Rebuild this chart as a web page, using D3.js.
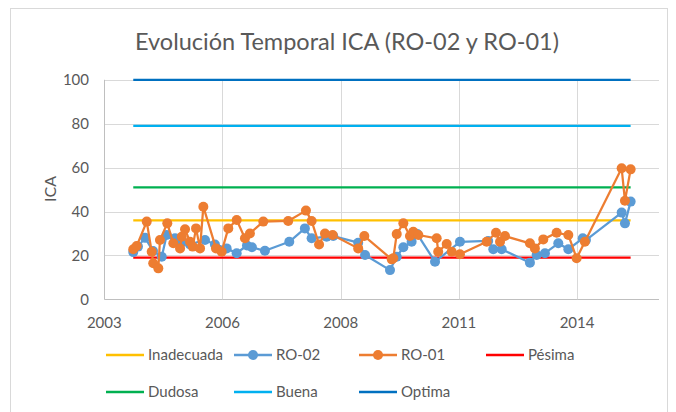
<!DOCTYPE html>
<html><head><meta charset="utf-8">
<script src="https://cdn.jsdelivr.net/npm/d3@7"></script>
<style>
html,body{margin:0;padding:0;background:#fff;}
text{font-family:Lato,"Open Sans",sans-serif;}
</style></head>
<body><svg id="c" width="676" height="412"></svg>
<script>
// ---- data ----
const ro02Dates = ["2004-02-01","2004-03-12","2004-05-11","2004-07-17","2004-09-29","2004-11-10","2005-01-19","2005-03-19","2005-05-26","2005-09-30","2005-12-23","2006-04-01","2006-06-25","2006-09-20","2006-11-01","2007-02-19","2007-09-13","2008-01-23","2008-03-20","2008-07-25","2008-09-19","2009-04-18","2009-06-15","2010-01-12","2010-03-10","2010-05-05","2010-07-14","2010-08-31","2011-01-28","2011-08-27","2012-04-22","2012-06-04","2012-08-14","2013-04-10","2013-06-06","2013-08-15","2013-12-06","2014-03-01","2014-07-01","2014-07-28","2015-05-26","2015-06-23","2015-08-10"];
const ro02Values = [21.5,24,28,22,19.4,29.3,27.8,26,25,27,25,23.2,21,24.5,23.7,22.1,26.2,32.3,27.8,28.5,28.8,25.8,20.2,13.3,19.4,23.7,26.2,29.7,17.1,26.2,26.6,22.8,22.8,16.7,20.2,21,25.5,22.8,27.8,27,39.5,34.6,44.5];
const ro01Dates = ["2004-02-01","2004-03-01","2004-05-25","2004-07-06","2004-07-19","2004-08-31","2004-09-14","2004-11-15","2005-01-05","2005-03-03","2005-03-17","2005-04-14","2005-05-26","2005-06-18","2005-07-16","2005-08-19","2005-09-16","2006-01-01","2006-02-18","2006-04-15","2006-06-25","2006-09-03","2006-10-15","2007-02-05","2007-09-04","2008-02-01","2008-03-20","2008-05-22","2008-07-11","2008-09-14","2009-04-18","2009-06-09","2010-01-27","2010-02-09","2010-03-10","2010-05-05","2010-06-30","2010-07-28","2010-09-09","2011-02-11","2011-02-24","2011-05-07","2011-06-18","2011-08-27","2012-04-09","2012-06-27","2012-07-31","2012-09-11","2013-04-10","2013-05-22","2013-08-01","2013-11-22","2014-03-01","2014-05-10","2014-07-19","2015-05-26","2015-06-23","2015-08-10"];
const ro01Values = [22.8,24.3,35.4,21.7,16.4,14.1,27,34.6,25.5,23.2,28.5,31.9,26.2,24,32.3,23.2,42.2,23.2,21.7,32.3,36.1,27.8,30,35.4,35.7,40.4,35.7,25,30,29.3,23.2,28.8,18.2,18.7,29.7,34.6,28.8,30.8,29.3,27.8,21.7,25.2,21.7,20.5,26.2,30.3,26.2,28.8,25.5,23.2,27.3,30.3,29.3,18.7,26.2,59.7,44.9,59.2];
const thresholdNames = ["Inadecuada","Pésima","Dudosa","Buena","Optima"];
const thresholdValues = [36,19,51,79,100];
const thresholdColors = ["#FFC000","#FF0000","#00B050","#00B0F0","#0070C0"];
const xTickLabels = ["2003","2006","2008","2011","2014"];
const yTicks = [0,20,40,60,80,100];
const legendRow1 = ["Inadecuada","RO-02","RO-01","Pésima"];
const legendRow2 = ["Dudosa","Buena","Optima"];

// ---- setup ----
const parse = d3.utcParse("%Y-%m-%d");
const DAY = 864e5;
const axisStart = Date.UTC(2003,5,1);
const x = d3.scaleUtc().domain([new Date(axisStart), new Date(axisStart + 4693*DAY)]).range([104.3, 659]);
const y = d3.scaleLinear().domain([0,100]).range([299.3, 79.8]);
const tickDates = xTickLabels.map((_,i)=> new Date(axisStart + i*1000*DAY));

const svg = d3.select("#c");
svg.append("rect").attr("x",10.5).attr("y",8.5).attr("width",657).attr("height",410).attr("fill","#fff").attr("stroke","#d9d9d9");

// title
svg.append("text").attr("x",347).attr("y",50).attr("text-anchor","middle")
  .attr("font-size",23.5).attr("fill","#595959").text("Evolución Temporal ICA (RO-02 y RO-01)");

// grid
const g = svg.append("g");
g.selectAll(".hg").data(yTicks).join("line")
  .attr("x1",x.range()[0]).attr("x2",x.range()[1])
  .attr("y1",d=>Math.round(y(d))+0.5).attr("y2",d=>Math.round(y(d))+0.5)
  .attr("stroke",d=>d===0?"#bfbfbf":"#d9d9d9").attr("stroke-width",1);
g.selectAll(".vg").data(tickDates).join("line")
  .attr("x1",d=>Math.round(x(d))+0.5).attr("x2",d=>Math.round(x(d))+0.5)
  .attr("y1",y(100)).attr("y2",y(0))
  .attr("stroke",(d,i)=>i===0?"#bfbfbf":"#d9d9d9").attr("stroke-width",1);

// y tick labels
g.selectAll(".yl").data(yTicks).join("text")
  .attr("x",89).attr("y",d=>y(d)).attr("dy","0.35em").attr("text-anchor","end")
  .attr("font-size",15).attr("fill","#595959").text(d=>d);
// x tick labels
g.selectAll(".xl").data(tickDates).join("text")
  .attr("x",d=>x(d)).attr("y",323).attr("dy","0.35em").attr("text-anchor","middle")
  .attr("font-size",15).attr("fill","#595959").text((d,i)=>xTickLabels[i]);
// y title
svg.append("text").attr("transform","translate(50,189) rotate(-90)").attr("text-anchor","middle")
  .attr("dy","0.35em").attr("font-size",16).attr("fill","#595959").text("ICA");

// series
const ro02 = ro02Dates.map((d,i)=>({date:parse(d), v:ro02Values[i]}));
const ro01 = ro01Dates.map((d,i)=>({date:parse(d), v:ro01Values[i]}));
const ext = d3.extent(ro02.concat(ro01), d=>d.date);
const line = d3.line().x(d=>x(d.date)).y(d=>y(d.v));

thresholdValues.forEach((v,i)=>{
  svg.append("line").attr("x1",x(ext[0])).attr("x2",x(ext[1]))
    .attr("y1",y(v)).attr("y2",y(v)).attr("stroke",thresholdColors[i]).attr("stroke-width",2.25);
});

function drawSeries(data,color){
  svg.append("path").datum(data).attr("d",line).attr("fill","none")
    .attr("stroke",color).attr("stroke-width",2.25).attr("stroke-linejoin","round");
  svg.append("g").selectAll("circle").data(data).join("circle")
    .attr("cx",d=>x(d.date)).attr("cy",d=>y(d.v)).attr("r",5).attr("fill",color);
}
drawSeries(ro02,"#5B9BD5");
drawSeries(ro01,"#ED7D31");

// legend
const colorOf = {"RO-02":"#5B9BD5","RO-01":"#ED7D31"};
thresholdNames.forEach((n,i)=>colorOf[n]=thresholdColors[i]);
const colX = [106,234,359,486];
function legendRow(items,yy){
  items.forEach((n,i)=>{
    const lx = colX[i];
    svg.append("line").attr("x1",lx).attr("x2",lx+38).attr("y1",yy).attr("y2",yy)
      .attr("stroke",colorOf[n]).attr("stroke-width",2.5);
    if(n.startsWith("RO")) svg.append("circle").attr("cx",lx+19).attr("cy",yy).attr("r",5).attr("fill",colorOf[n]);
    svg.append("text").attr("x",lx+42).attr("y",yy).attr("dy","0.35em")
      .attr("font-size",15).attr("fill","#595959").text(n);
  });
}
legendRow(legendRow1,355);
legendRow(legendRow2,392);
</script></body></html>
